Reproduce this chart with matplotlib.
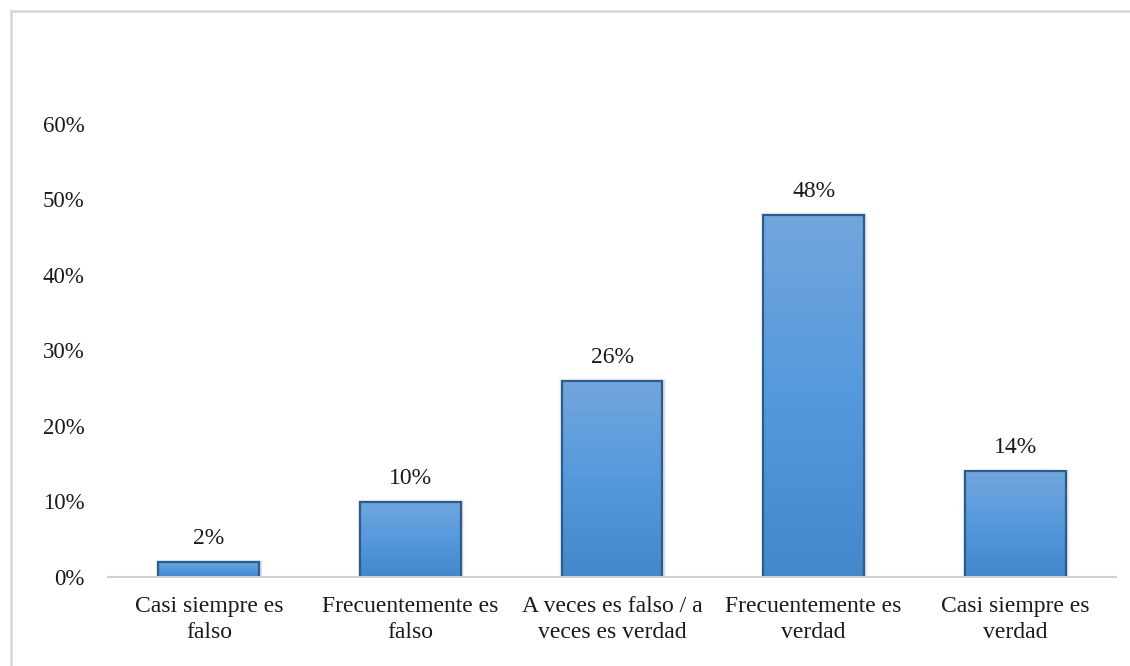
import matplotlib
matplotlib.use("Agg")
import matplotlib.pyplot as plt
import numpy as np
from matplotlib.colors import LinearSegmentedColormap
from matplotlib.patches import Rectangle
from matplotlib.ticker import PercentFormatter

categories = ["Casi siempre es\nfalso", "Frecuentemente es\nfalso",
              "A veces es falso / a\nveces es verdad", "Frecuentemente es\nverdad",
              "Casi siempre es\nverdad"]
values = [0.02, 0.10, 0.26, 0.48, 0.14]
yticks = [0.0, 0.1, 0.2, 0.3, 0.4, 0.5, 0.6]

plt.rcParams['font.family'] = ['Liberation Serif', 'DejaVu Serif']

fig = plt.figure(figsize=(11.3, 6.66), dpi=100)
ax = fig.add_axes([108/1130, 89/666, 1008/1130, 453/666])

x = np.arange(len(categories))
bars = ax.bar(x, values, width=0.5, color='none', edgecolor='#2C5C8C', linewidth=1.6, zorder=3)

cmap = LinearSegmentedColormap.from_list('g', ['#4488CC', '#5599DD', '#72A6DC'])
grad = np.linspace(0, 1, 256).reshape(-1, 1)
for b in bars:
    x0, w, h = b.get_x(), b.get_width(), b.get_height()
    # soft shadow
    for k, a in enumerate([0.06, 0.04, 0.02]):
        ax.add_patch(Rectangle((x0 - 0.004*(k+1), 0), w + 0.008*(k+2), h + 0.001*(k+1),
                               facecolor='black', alpha=a, edgecolor='none', zorder=1))
    im = ax.imshow(grad, extent=[x0, x0 + w, 0, h], origin='lower', cmap=cmap,
                   aspect='auto', zorder=2)
    im.set_clip_path(b)
    ax.text(b.get_x() + w/2, h + 0.017, f"{round(h*100)}%", ha='center', va='bottom',
            fontsize=17, color='#1a1a1a')

ax.set_xlim(-0.5, len(categories) - 0.5)
ax.set_ylim(0, 0.6)
ax.set_yticks(yticks)
ax.yaxis.set_major_formatter(PercentFormatter(1.0, decimals=0))
ax.set_xticks(x)
ax.set_xticklabels(categories, fontsize=17, linespacing=1.3)
for lab in ax.get_yticklabels():
    lab.set_fontsize(16.5)
ax.tick_params(axis='y', length=0, pad=17, colors='#1a1a1a')
ax.tick_params(axis='x', length=0, pad=14, colors='#1a1a1a')
for s in ['top', 'right', 'left']:
    ax.spines[s].set_visible(False)
ax.spines['bottom'].set_color('#D0D0D0')
ax.spines['bottom'].set_linewidth(1.5)
ax.spines['bottom'].set_zorder(4)

# outer frame (top and left visible)
fig.add_artist(plt.Line2D([10.5/1130, 10.5/1130], [0, 1 - 11/666], color='#D9D9D9', lw=2,
                          transform=fig.transFigure))
fig.add_artist(plt.Line2D([10.5/1130, 1], [1 - 11/666, 1 - 11/666], color='#D9D9D9', lw=2,
                          transform=fig.transFigure))

fig.savefig('out.png', dpi=100)
